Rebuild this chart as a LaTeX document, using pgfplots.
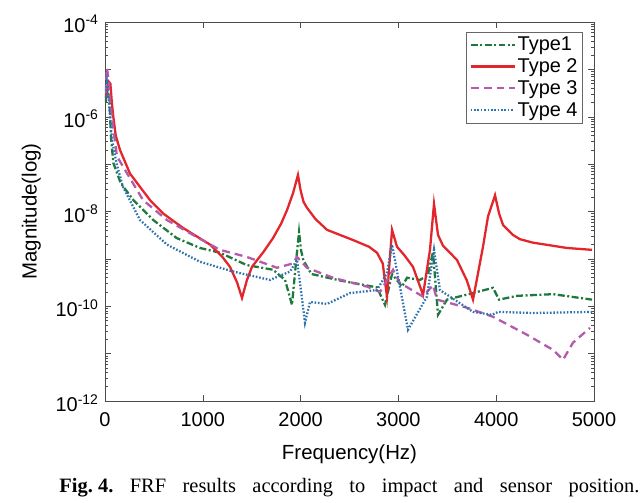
\documentclass[border=0pt]{standalone}
\usepackage{pgfplots}
\pgfplotsset{compat=1.18}
\usepackage{fontspec}
\setmainfont{Liberation Sans}
\newfontfamily\timesfont{Liberation Serif}
\definecolor{cgreen}{HTML}{1E7A3C}
\definecolor{cred}{HTML}{E3262B}
\definecolor{cmag}{HTML}{B45AAA}
\definecolor{cblue}{HTML}{2E72AE}
\begin{document}
\begin{tikzpicture}
\path[use as bounding box] (-105bp,-102bp) rectangle (538bp,401bp);
\begin{axis}[
  at={(0,0)}, anchor=south west,
  scale only axis, width=489bp, height=379bp,
  xmin=0, xmax=5000, ymin=1e-12, ymax=1e-4,
  ymode=log,
  xtick={0,1000,2000,3000,4000,5000},
  ytick={1e-12,1e-11,1e-10,1e-9,1e-8,1e-7,1e-6,1e-5,1e-4},
  yticklabels={10\textsuperscript{-12},,10\textsuperscript{-10},,10\textsuperscript{-8},,10\textsuperscript{-6},,10\textsuperscript{-4}},
  /pgf/number format/assume math mode=true,
  /pgf/number format/set thousands separator={},
  scaled x ticks=false,
  tick align=inside,
  major tick length=6bp, minor tick length=3bp,
  axis line style={draw=black!70, line width=0.6pt},
  every tick/.style={draw=black!70, line width=0.5pt},
  tick label style={font=\fontsize{20}{22}\selectfont},
  xticklabel style={yshift=-8bp},
  yticklabel style={yshift=-2bp, xshift=-3bp},
  xlabel={Frequency(Hz)}, ylabel={Magnitude(log)},
  label style={font=\fontsize{20.5}{22}\selectfont},
  xlabel style={yshift=-11bp},
  ylabel style={yshift=8bp},
  legend style={at={(0.977,0.974)}, anchor=north east, draw=black!60,
    font=\fontsize{20}{22}\selectfont, row sep=2.5bp, inner sep=3bp},
  legend cell align=left,
  legend image code/.code={\draw[#1] (0bp,0bp) -- (44bp,0bp);},
  every axis plot/.append style={line width=2.3pt},
]
\addplot[cgreen, dash pattern=on 7pt off 2.5pt on 2pt off 2.5pt] coordinates {
(5,2.0e-6)(25,3.5e-6)(45,2.5e-6)(60,4e-7)(85,1.07e-7)(160,4e-8)(290,1.74e-8)(494,6.6e-9)(733,2.75e-9)(971,1.7e-9)(1176,1.35e-9)(1449,7.4e-10)(1718,5.9e-10)(1841,3.6e-10)(1912,1.07e-10)(1960,1.2e-9)(1984,3.7e-9)(2005,1.5e-9)(2029,9.3e-10)(2110,4.8e-10)(2403,3.5e-10)(2781,2.5e-10)(2863,1.07e-10)(2935,4.8e-10)(3037,2.6e-10)(3088,4e-10)(3221,3.6e-10)(3300,4.5e-10)(3354,1.4e-9)(3405,6.6e-11)(3497,1.38e-10)(3763,1.9e-10)(3967,2.45e-10)(4029,1.38e-10)(4213,1.66e-10)(4581,1.8e-10)(4980,1.38e-10)
};
\addlegendentry{Type1}
\addplot[cred, solid] coordinates {
(5,2.5e-6)(35,5.6e-6)(55,5.0e-6)(70,2.0e-6)(85,1.0e-6)(110,4.0e-7)(153,2.0e-7)(256,6.3e-8)(460,1.74e-8)(600,8.9e-9)(798,4.5e-9)(1074,2.0e-9)(1200,1.1e-9)(1278,6.8e-10)(1350,3.2e-10)(1401,1.5e-10)(1450,3.5e-10)(1503,6.8e-10)(1620,1.4e-9)(1718,2.75e-9)(1800,5.5e-9)(1861,1.07e-8)(1923,2.45e-8)(1973,5.9e-8)(2000,2.8e-8)(2030,1.6e-8)(2065,1.2e-8)(2150,7e-9)(2270,4.1e-9)(2536,2.5e-9)(2700,1.8e-9)(2781,1.35e-9)(2840,8e-10)(2883,1.6e-10)(2935,4.1e-9)(2986,1.8e-9)(3060,1.2e-9)(3149,6.8e-10)(3252,1.74e-10)(3323,1.55e-9)(3364,1.45e-8)(3405,3.2e-9)(3456,1.9e-9)(3599,9.5e-10)(3700,3.5e-10)(3763,1.38e-10)(3865,1.8e-9)(3916,7.8e-9)(3988,2.2e-8)(4030,9e-9)(4070,5.2e-9)(4172,3.2e-9)(4243,2.6e-9)(4376,2.2e-9)(4724,1.7e-9)(4980,1.55e-9)
};
\addlegendentry{Type 2}
\addplot[cmag, dash pattern=on 8pt off 5pt] coordinates {
(5,3.2e-6)(20,1.07e-5)(35,6.3e-6)(51,2.2e-6)(100,3.2e-7)(123,1.45e-7)(389,1.74e-8)(634,6.6e-9)(900,3.2e-9)(1176,1.55e-9)(1449,1.1e-9)(1759,6.5e-10)(1920,8e-10)(1963,1.1e-9)(2065,6.5e-10)(2331,4e-10)(2679,2.6e-10)(2812,2e-10)(2945,5.9e-10)(3016,3.1e-10)(3252,1.6e-10)(3354,2.8e-10)(3395,1.38e-10)(3702,9.3e-11)(3967,6e-11)(4315,2.5e-11)(4581,1.2e-11)(4683,7.4e-12)(4785,1.7e-11)(4959,3.5e-11)
};
\addlegendentry{Type 3}
\addplot[cblue, dash pattern=on 1.6pt off 1.8pt] coordinates {
(5,2.5e-6)(20,5e-6)(40,2e-6)(72,3.2e-7)(120,1e-7)(184,3.3e-8)(358,6.6e-9)(634,2e-9)(971,8.7e-10)(1309,5.4e-10)(1687,3.6e-10)(1892,5.4e-10)(1963,9.5e-10)(1994,3.1e-10)(2045,4.5e-11)(2096,1.23e-10)(2270,1.12e-10)(2505,1.9e-10)(2781,2.2e-10)(2883,5e-10)(2935,2e-9)(3098,3.2e-11)(3292,1.6e-10)(3364,1.55e-9)(3425,2.2e-10)(3763,7.6e-11)(3957,6.6e-11)(4019,7.6e-11)(4376,7.2e-11)(4980,7.6e-11)
};
\addlegendentry{Type 4}
\end{axis}
\node[anchor=base] at (244.5bp,-91bp) {\timesfont\frenchspacing\fontsize{20.5}{22}\selectfont\makebox[580bp][s]{\textbf{Fig.\kern0.25em4.} FRF results according to impact and sensor position.}};
\end{tikzpicture}
\end{document}
